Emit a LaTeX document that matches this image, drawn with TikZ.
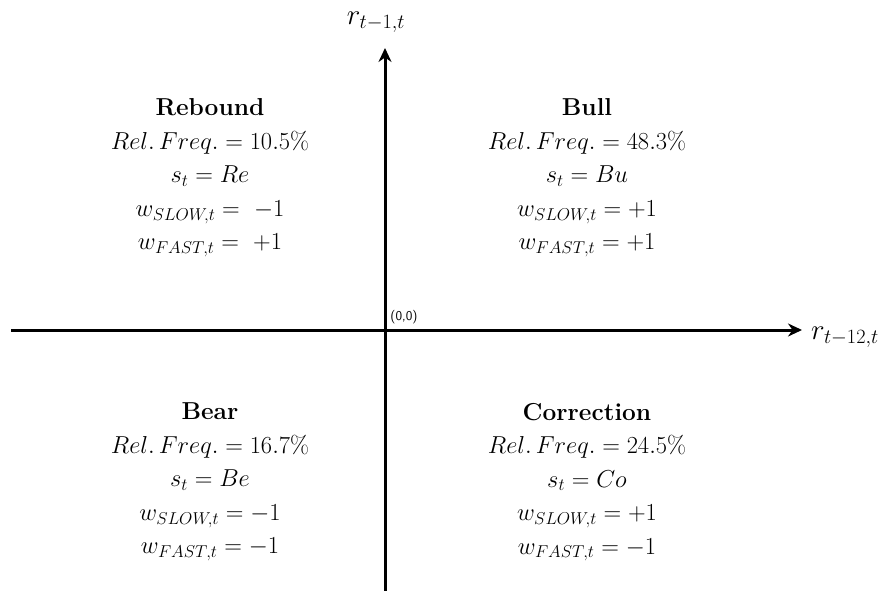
\RequirePackage{fix-cm}
\documentclass[tikz,border=0pt]{standalone}
\usepackage{amsmath}
\usetikzlibrary{arrows.meta}

\begin{document}
\begin{tikzpicture}[
    x=1pt, y=-1pt,
    % ejes con punta triangular
    eje/.style={line width=3pt, -{Stealth[length=14pt, width=13pt]}},
    % bloques de texto de cada cuadrante
    cuadrante/.style={align=center, inner sep=0pt, font=\fontsize{24.5}{33.5}\selectfont},
    etiqueta/.style={inner sep=0pt, font=\fontsize{29}{32}\selectfont}
]
    \useasboundingbox (0,0) rectangle (886,591);

    % --- EJES ---
    \coordinate (izq)    at (11,330);
    \coordinate (der)    at (802,330);
    \coordinate (abajo)  at (385,591);
    \coordinate (arriba) at (385,48);
    \draw[eje] (izq) -- (der);
    \draw[eje] (abajo) -- (arriba);

    \node[etiqueta] (ejeY) at (376,22) {$r_{t-1,t}$};
    \node[etiqueta, anchor=west] (ejeX) at (811,337) {$r_{t-12,t}$};
    \node[inner sep=0pt, font=\sffamily\fontsize{13.5}{14}\selectfont] (origen) at (404,317) {(0,0)};

    % --- CUADRANTES ---
    \node[cuadrante] (rebound) at (210,178) {\textbf{Rebound}\\ $Rel.\,Freq.=10.5\%$\\ $s_t=Re$\\ $w_{SLOW,t}=\ -1$\\ $w_{FAST,t}=\ +1$};
    \node[cuadrante] (bull) at (587,178) {\textbf{Bull}\\ $Rel.\,Freq.=48.3\%$\\ $s_t=Bu$\\ $w_{SLOW,t}=+1$\\ $w_{FAST,t}=+1$};
    \node[cuadrante] (bear) at (210,482) {\textbf{Bear}\\ $Rel.\,Freq.=16.7\%$\\ $s_t=Be$\\ $w_{SLOW,t}=-1$\\ $w_{FAST,t}=-1$};
    \node[cuadrante] (correction) at (587,482) {\textbf{Correction}\\ $Rel.\,Freq.=24.5\%$\\ $s_t=Co$\\ $w_{SLOW,t}=+1$\\ $w_{FAST,t}=-1$};

\end{tikzpicture}
\end{document}
